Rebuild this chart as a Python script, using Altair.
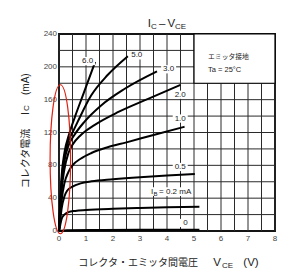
import altair as alt
import pandas as pd

# ---- data (V_CE in V, I_C in mA) ----
ib_names = ["0", "0.2", "0.5", "1.0", "2.0", "3.0", "5.0", "6.0"]

v_ib0 = [0, 0.3, 1.5, 3.0, 5.2]
i_ib0 = [0, 1.0, 1.2, 1.4, 1.5]

v_ib02 = [0, 0.05, 0.1, 0.2, 0.35, 0.6, 1.0, 2.0, 3.0, 4.0, 5.2]
i_ib02 = [0, 8, 15, 20, 23, 24.5, 25.5, 27, 28, 28.8, 29.5]

v_ib05 = [0, 0.05, 0.1, 0.2, 0.3, 0.5, 0.8, 1.2, 2.0, 3.0, 4.0, 5.03]
i_ib05 = [0, 15, 28, 42, 49, 54, 58, 60.5, 63, 65.5, 67.5, 69.5]

v_ib1 = [0, 0.05, 0.1, 0.2, 0.35, 0.5, 0.8, 1.2, 1.8, 2.5, 3.5, 4.65]
i_ib1 = [0, 20, 38, 58, 72, 80, 88, 95, 102, 108, 117, 127]

v_ib2 = [0, 0.05, 0.1, 0.2, 0.35, 0.5, 0.81, 1.31, 2.2, 3.3, 4.5]
i_ib2 = [0, 25, 50, 75, 95, 105, 117, 129, 145, 161, 178]

v_ib3 = [0, 0.05, 0.1, 0.2, 0.35, 0.57, 0.94, 1.56, 2.42, 3.63]
i_ib3 = [0, 30, 58, 85, 104, 117, 133, 153, 173, 194.5]

v_ib5 = [0, 0.05, 0.1, 0.2, 0.35, 0.5, 0.69, 1.19, 1.8, 2.55]
i_ib5 = [0, 35, 62, 90, 110, 120, 133, 165, 190, 213]

v_ib6 = [0, 0.05, 0.1, 0.2, 0.385, 0.6, 0.88, 1.34]
i_ib6 = [0, 38, 68, 95, 119, 140, 165, 206]

x_ticks = [0, 0.5, 1, 1.5, 2, 2.5, 3, 3.5, 4, 4.5, 5, 5.5, 6, 6.5, 7, 7.5, 8]
y_ticks = [0, 20, 40, 60, 80, 100, 120, 140, 160, 180, 200, 220, 240]
x_labels = [0, 1, 2, 3, 4, 5, 6, 7, 8]
y_labels = [0, 40, 80, 120, 160, 200, 240]

# curve label texts and where they sit (V, mA)
lab_text = ["6.0", "5.0", "3.0", "2.0", "1.0", "0.5", "0"]
lab_v = [1.06, 2.88, 4.06, 4.49, 4.49, 4.49, 4.68]
lab_i = [207, 214, 197, 166, 137, 78, 9.8]

ib_lab_v = 4.15
ib_lab_i = 48

# ---- build tables ----
series = [v_ib0, v_ib02, v_ib05, v_ib1, v_ib2, v_ib3, v_ib5, v_ib6]
values = [i_ib0, i_ib02, i_ib05, i_ib1, i_ib2, i_ib3, i_ib5, i_ib6]
rows = []
for name, vs, cs in zip(ib_names, series, values):
    for k, (v, c) in enumerate(zip(vs, cs)):
        rows.append({"ib": name, "v": v, "ic": c, "k": k})
df = pd.DataFrame(rows)
labels = pd.DataFrame({"t": lab_text, "v": lab_v, "ic": lab_i})
dummy = pd.DataFrame({"a": [0]})

xs = alt.Scale(domain=[0, 8], nice=False, zero=False)
ys = alt.Scale(domain=[0, 240], nice=False, zero=False)
NUM = "Liberation Sans"
JP = "Noto Sans CJK JP"
TXT = "#222222"
GRID = "#2a2a2a"
TICK = "#444444"


def X(f):
    return alt.X(f, scale=xs, axis=None)


def Y(f):
    return alt.Y(f, scale=ys, axis=None)


vgrid = alt.Chart(pd.DataFrame({"g": x_ticks})).mark_rule(color=GRID, strokeWidth=1).encode(x=X("g:Q"))
hgrid = alt.Chart(pd.DataFrame({"g": y_ticks})).mark_rule(color=GRID, strokeWidth=1).encode(y=Y("g:Q"))

# tick labels, placed through the scales
xlab = alt.Chart(pd.DataFrame({"g": x_labels})).mark_text(
    fontSize=8, font=NUM, color=TICK, baseline="top", align="center").encode(
    x=X("g:Q"), y=alt.value(201), text=alt.Text("g:Q", format="d"))
ylab = alt.Chart(pd.DataFrame({"g": y_labels})).mark_text(
    fontSize=8, font=NUM, color=TICK, baseline="middle", align="right").encode(
    y=Y("g:Q"), x=alt.value(-2), text=alt.Text("g:Q", format="d"))

lines = alt.Chart(df).mark_line(color="black", strokeWidth=2, interpolate="monotone").encode(
    x=X("v:Q"), y=Y("ic:Q"), detail="ib:N", order="k:Q")

legend_box = alt.Chart(dummy).mark_rect(fill="white", stroke="black", strokeWidth=1.2).encode(
    x=alt.datum(5, scale=xs, axis=None), x2=alt.datum(8),
    y=alt.datum(180, scale=ys, axis=None), y2=alt.datum(240))

bg_small = alt.Chart(labels).mark_point(
    shape="M-1,-0.55H1V0.55H-1Z", filled=True, color="white", opacity=1, size=225, strokeWidth=0
).encode(x=X("v:Q"), y=Y("ic:Q"))
lab_marks = alt.Chart(labels).mark_text(fontSize=8, font=NUM, color=TXT, baseline="middle").encode(
    x=X("v:Q"), y=Y("ic:Q"), text="t:N")

ibd = pd.DataFrame({"v": [ib_lab_v], "ic": [ib_lab_i]})
bg_wide = alt.Chart(ibd).mark_point(
    shape="M-1,-0.2H1V0.2H-1Z", filled=True, color="white", opacity=1, size=1936, strokeWidth=0
).encode(x=X("v:Q"), y=Y("ic:Q"))


def dtext(s, dx, size, dy=0):
    return alt.Chart(ibd).mark_text(text=s, fontSize=size, font=NUM, color=TXT, align="left",
                                    baseline="middle", dx=dx, dy=dy).encode(x=X("v:Q"), y=Y("ic:Q"))


ib_I = dtext("I", -20, 8)
ib_B = dtext("B", -17.5, 6, 2)
ib_rest = dtext("= 0.2 mA", -12, 8)

# emitter-grounded legend texts
legd = pd.DataFrame({"t": ["エミッタ接地", "Ta = 25°C"], "v": [5.52, 5.52], "ic": [210, 193.5]})
leg1 = alt.Chart(legd.iloc[[0]]).mark_text(font=JP, fontSize=6.8, color=TXT, align="left",
                                           baseline="alphabetic").encode(
    x=X("v:Q"), y=Y("ic:Q"), text="t:N")
leg2 = alt.Chart(legd.iloc[[1]]).mark_text(font=NUM, fontSize=7.5, color=TXT, align="left",
                                           baseline="alphabetic").encode(
    x=X("v:Q"), y=Y("ic:Q"), text="t:N")

# red ellipse annotation centred near the origin
k = 0.5523
a = 0.1376
ell_path = (f"M0,-1C{k*a:.4f},-1 {a},-{k} {a},0C{a},{k} {k*a:.4f},1 0,1"
            f"C-{k*a:.4f},1 -{a},{k} -{a},0C-{a},-{k} -{k*a:.4f},-1 0,-1Z")
ell = alt.Chart(pd.DataFrame({"v": [0.05], "ic": [87.4]})).mark_point(
    shape=ell_path, filled=False, color="#e02010", strokeWidth=1.2, size=22201, opacity=1
).encode(x=X("v:Q"), y=Y("ic:Q"))


def ptext(s, x, y, size, font=NUM, angle=0):
    return alt.Chart(dummy).mark_text(text=s, fontSize=size, font=font, color=TXT, align="left",
                                      baseline="alphabetic", angle=angle).encode(
        x=alt.value(x), y=alt.value(y))


title_parts = [
    ptext("I", 88.7, -7.3, 11.5),
    ptext("C", 91.9, -5.5, 8),
    ptext("–", 100.0, -7.3, 11.5),
    ptext("V", 108.5, -7.3, 11.5),
    ptext("CE", 116.0, -5.5, 8),
]
xtitle_parts = [
    ptext("コレクタ・エミッタ間電圧", 19.3, 231.5, 10, JP),
    ptext("V", 154.3, 231.5, 11.5),
    ptext("CE", 163.0, 233.5, 8),
    ptext("(V)", 184.3, 231.5, 11.5),
]
ytitle_parts = [
    ptext("コレクタ電流", -30.2, 154.3, 10, JP, 270),
    ptext("I", -29.7, 81, 10.5, NUM, 270),
    ptext("C", -29.7, 77, 8, NUM, 270),
    ptext("(mA)", -30.5, 61, 10, NUM, 270),
]

chart = alt.layer(
    vgrid, hgrid, xlab, ylab, legend_box, lines, bg_small, bg_wide, lab_marks, ib_I, ib_B, ib_rest,
    leg1, leg2, ell, *title_parts, *xtitle_parts, *ytitle_parts
).properties(
    width=216, height=197,
    padding={"left": 59, "top": 34, "right": 25, "bottom": 48},
    autosize=alt.AutoSizeParams(type="none"),
    background="white",
).configure_view(stroke="black", strokeWidth=1.8)

chart.save("out.html", embed_options={"renderer": "svg", "actions": False})
